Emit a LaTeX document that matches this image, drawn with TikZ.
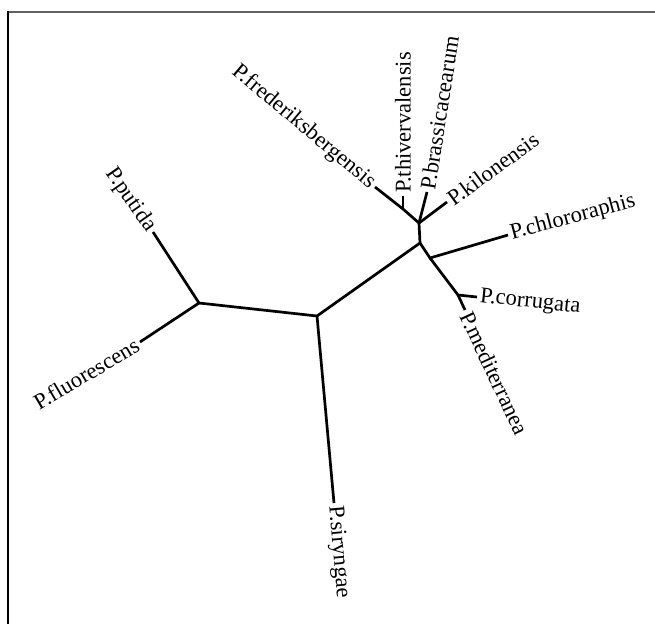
\documentclass[tikz,border=0pt]{standalone}
\usepackage{fontspec}
\setmainfont{Liberation Serif}
\begin{document}
\begin{tikzpicture}[x=1pt,y=-1pt,
  branch/.style={line width=2.7pt,line cap=butt,line join=miter},
  taxon/.style={inner sep=3pt,font=\fontsize{22.5}{25}\selectfont},
  framel/.style={line width=2pt}]
\useasboundingbox (0,0) rectangle (655,624);
% frame
\draw[framel,color=black!62] (7,12) -- (655,12);
\draw[framel] (8,11) -- (8,624);
% internal nodes
\coordinate (A) at (199,303);
\coordinate (B) at (317,316);
\coordinate (C) at (420,243);
\coordinate (D) at (419,223);
\coordinate (E) at (430,258);
\coordinate (F) at (458,295);
\coordinate (G) at (403,209);
% leaf ends
\coordinate (putida) at (153,232);
\coordinate (fluor) at (140,342);
\coordinate (syr) at (334,503);
\coordinate (fred) at (375,187);
\coordinate (thiv) at (403,196);
\coordinate (brass) at (427,192);
\coordinate (kilo) at (447,202);
\coordinate (chlor) at (508,235);
\coordinate (corr) at (477,297);
\coordinate (medit) at (465,310);
% branches
\draw[branch] (putida) -- (A) -- (fluor);
\draw[branch] (A) -- (B) -- (syr);
\draw[branch] (B) -- (C) -- (D);
\draw[branch] (fred) -- (G) -- (D);
\draw[branch] (G) -- (thiv);
\draw[branch] (D) -- (brass);
\draw[branch] (D) -- (kilo);
\draw[branch] (C) -- (E) -- (chlor);
\draw[branch] (E) -- (F) -- (corr);
\draw[branch] (F) -- (medit);
% labels
\node[taxon,anchor=east,rotate=-55] (Lputida) at (putida) {P.putida};
\node[taxon,anchor=east,rotate=30.5] (Lfluor) at (fluor) {P.fluorescens};
\node[taxon,anchor=west,rotate=-85] (Lsyr) at (syr) {P.siryngae};
\node[taxon,anchor=east,rotate=-40] (Lfred) at (fred) {P.frederiksbergensis};
\node[taxon,anchor=west,rotate=90] (Lthiv) at (thiv) {P.thivervalensis};
\node[taxon,anchor=west,rotate=81] (Lbrass) at (brass) {P.brassicacearum};
\node[taxon,anchor=west,rotate=36] (Lkilo) at (kilo) {P.kilonensis};
\node[taxon,anchor=west,rotate=15] (Lchlor) at (chlor) {P.chlororaphis};
\node[taxon,anchor=west,rotate=-6] (Lcorr) at (corr) {P.corrugata};
\node[taxon,anchor=west,rotate=-65] (Lmedit) at (medit) {P.mediterranea};
\end{tikzpicture}
\end{document}
